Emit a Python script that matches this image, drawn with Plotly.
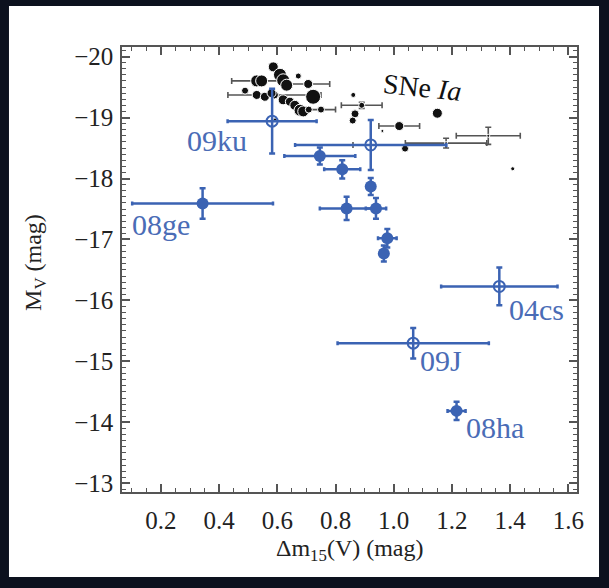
import plotly.graph_objects as go

# ---------------- data ----------------
# Blue: filled points (x, y, xerr, yerr)
blue_x = [0.746, 0.823, 0.921, 0.343, 0.838, 0.939, 0.978, 0.966, 1.216]
blue_y = [-18.37, -18.15, -17.87, -17.59, -17.51, -17.51, -17.02, -16.77, -14.19]
blue_xerr = [0.122, 0.062, 0.0, 0.242, 0.092, 0.035, 0.032, 0.0, 0.031]
blue_yerr = [0.14, 0.15, 0.14, 0.25, 0.19, 0.17, 0.15, 0.13, 0.15]

# Blue: open points
open_x = [0.582, 0.921, 1.363, 1.067]
open_y = [-18.94, -18.55, -16.23, -15.30]
open_xerr = [0.153, 0.26, 0.20, 0.26]
open_yerr = [0.53, 0.41, 0.31, 0.25]

# Blue labels
lab_text = ["09ku", "08ge", "04cs", "09J", "08ha"]
lab_x = [0.392, 0.199, 1.491, 1.162, 1.348]
lab_y = [-18.63, -17.24, -15.86, -15.02, -13.92]

# SNe Ia (black) without error bars
ia_x = [0.586, 0.546, 0.609, 0.620, 0.632, 0.672, 0.723, 0.489, 0.529, 0.557, 0.580,
        0.592, 0.620, 0.643, 0.660, 0.678, 0.689, 0.708, 0.861, 0.867, 0.859, 1.150,
        0.961, 1.039, 1.409]
ia_y = [-19.83, -19.60, -19.70, -19.61, -19.53, -19.68, -19.34, -19.44, -19.37, -19.34, -19.40,
        -18.96, -19.29, -19.26, -19.20, -19.12, -19.10, -19.13, -19.37, -19.06, -18.95, -19.07,
        -18.78, -18.49, -18.16]
ia_size = [10, 12, 13, 13, 12, 6, 15, 7, 9, 9, 9,
           4, 10, 9, 10, 12, 11, 7, 5, 8, 7, 10,
           3, 7, 4]

# SNe Ia with error bars
iae_x = [0.529, 0.706, 0.590, 0.750, 0.890, 1.019, 1.325, 1.180, 1.020]
iae_y = [-19.60, -19.55, -19.37, -19.13, -19.20, -18.86, -18.70, -18.58, -18.55]
iae_xerr = [0.086, 0.074, 0.160, 0.050, 0.070, 0.070, 0.110, 0.140, 0.160]
iae_yerr = [0.0, 0.0, 0.0, 0.0, 0.05, 0.0, 0.14, 0.08, 0.0]
iae_size = [12, 9, 8, 7, 6, 9, 3, 3, 2]

x_ticks = [0.2, 0.4, 0.6, 0.8, 1.0, 1.2, 1.4, 1.6]
y_ticks = [-20, -19, -18, -17, -16, -15, -14, -13]

BLUE = "#3b63b3"
GRAY = "#555555"
FONT = "Liberation Serif, Times New Roman, Times, serif"

fig = go.Figure()

# SNe Ia with error bars
fig.add_trace(go.Scatter(
    x=iae_x, y=iae_y, mode="markers",
    marker=dict(color="#111111", size=iae_size, opacity=1),
    error_x=dict(type="data", array=iae_xerr, color=GRAY, thickness=1.6, width=3),
    error_y=dict(type="data", array=iae_yerr, color=GRAY, thickness=1.6, width=3),
    showlegend=False, hoverinfo="skip"))

fig.add_trace(go.Scatter(
    x=ia_x, y=ia_y, mode="markers",
    marker=dict(color="#111111", size=ia_size, opacity=1),
    showlegend=False, hoverinfo="skip"))

# Blue open
fig.add_trace(go.Scatter(
    x=open_x, y=open_y, mode="markers",
    marker=dict(symbol="circle-open", color=BLUE, size=11, opacity=1,
                line=dict(width=2, color=BLUE)),
    error_x=dict(type="data", array=open_xerr, color=BLUE, thickness=2.5, width=2),
    error_y=dict(type="data", array=open_yerr, color=BLUE, thickness=2.5, width=3),
    showlegend=False, hoverinfo="skip"))

# Blue filled
fig.add_trace(go.Scatter(
    x=blue_x, y=blue_y, mode="markers",
    marker=dict(symbol="circle", color=BLUE, size=12, opacity=1),
    error_x=dict(type="data", array=blue_xerr, color=BLUE, thickness=2.5, width=2),
    error_y=dict(type="data", array=blue_yerr, color=BLUE, thickness=2.5, width=3),
    showlegend=False, hoverinfo="skip"))

annotations = []
for t, x, y in zip(lab_text, lab_x, lab_y):
    annotations.append(dict(x=x, y=y, xref="x", yref="y", text=t, showarrow=False,
                            xanchor="center", yanchor="middle",
                            font=dict(family=FONT, size=30, color="#4a6cb6")))
annotations.append(dict(x=1.10, y=-19.50, xref="x", yref="y", text="SNe <i>Ia</i>",
                        showarrow=False, textangle=6, xanchor="center", yanchor="middle",
                        font=dict(family=FONT, size=28, color="#111111")))
annotations.append(dict(x=0.5, y=-0.13, xref="paper", yref="paper",
                        text="Δm<sub>15</sub>(V) (mag)", showarrow=False,
                        xanchor="center", yanchor="middle",
                        font=dict(family=FONT, size=24, color="#222222")))
annotations.append(dict(x=-0.191, y=0.515, xref="paper", yref="paper",
                        text="M<sub>V</sub> (mag)", showarrow=False, textangle=-90,
                        xanchor="center", yanchor="middle",
                        font=dict(family=FONT, size=24, color="#222222")))

axis_common = dict(
    showline=True, linecolor="#555555", linewidth=1.5, mirror="allticks",
    ticks="inside", ticklen=8, tickwidth=1.5, tickcolor="#555555",
    showgrid=False, zeroline=False,
    tickfont=dict(family=FONT, size=25, color="#222222"),
)

fig.update_layout(
    width=609, height=588,
    margin=dict(l=122, r=32, t=47, b=96),
    paper_bgcolor="#0c111e", plot_bgcolor="white",
    xaxis=dict(range=[0.066, 1.63], tickvals=x_ticks, tickformat=".1f",
               ticklabelstandoff=5,
               minor=dict(dtick=0.05, tick0=0.0, ticks="inside", ticklen=4,
                          tickwidth=1, tickcolor="#555555"),
               **axis_common),
    yaxis=dict(range=[-12.86, -20.156], tickvals=y_ticks, ticklabelstandoff=2,
               minor=dict(dtick=0.1, tick0=-20, ticks="inside", ticklen=4,
                          tickwidth=1, tickcolor="#555555"),
               **axis_common),
    annotations=annotations,
    shapes=[dict(type="rect", xref="paper", yref="paper",
                 x0=-0.2484, x1=1.0484, y0=-0.191, y1=1.0921,
                 fillcolor="white", line=dict(width=0), layer="below")],
)

fig.write_html("out.html")
